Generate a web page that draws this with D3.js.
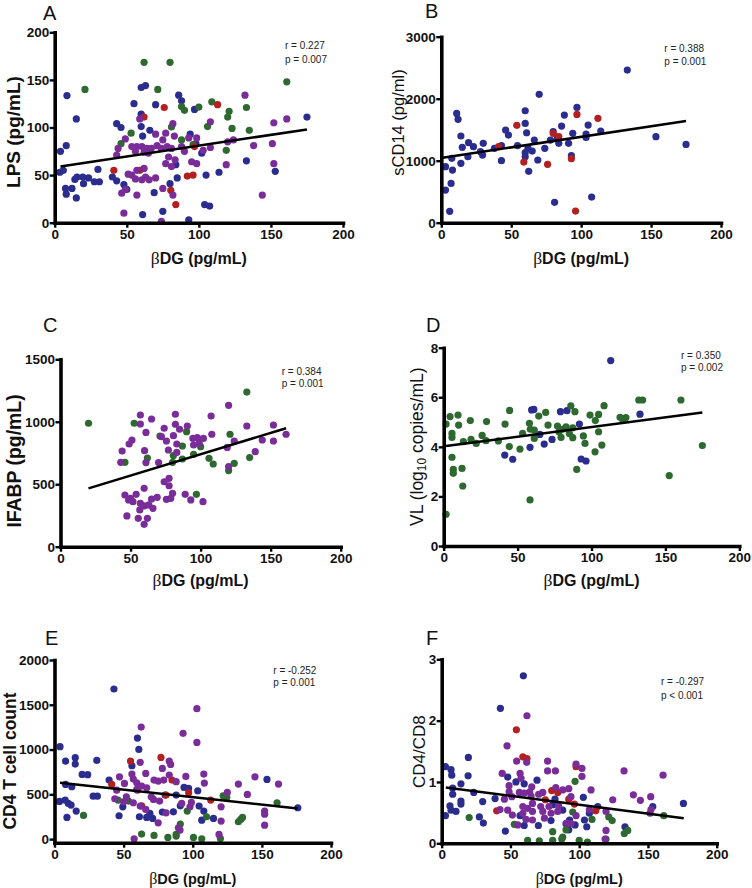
<!DOCTYPE html>
<html><head><meta charset="utf-8">
<script src="https://cdn.jsdelivr.net/npm/d3@7"></script>
<style>body{margin:0;background:#fff;} svg{display:block;font-family:"Liberation Sans",Arial,sans-serif;}</style>
</head><body><svg id="c" width="752" height="888"></svg>
<script>
const xTicks = [0, 50, 100, 150, 200];

// Panel A: LPS vs βDG
const aGreen = [[62,168.5],[80,168.5],[21,140],[71.5,140],[161,148],[88,122],[100,121.5],[109,127],[90,118],[121,117],[133,121],[120,111],[106,101],[81,100.5],[123,99],[135,97],[53,94],[88,87],[46,83],[96,82],[119,76]];
const aRed = [[76,121],[113,124],[62,111],[41,55],[59,55],[92,49],[96,50],[97,80],[80.5,34],[84,19]];
const aBlue = [[8.5,133.5],[15,109],[4,75],[8,81],[3.5,53],[6,55],[7.5,36],[8,30],[12,36],[14,45.5],[15,26],[15.5,48],[19.5,48],[20,41],[23.5,47],[27.5,43],[30,56],[31,43],[40,48],[43,44],[48,40],[50,35],[43,104],[46,100],[55,125],[60,142],[63,144],[60,114],[60,101],[66,97],[61,91],[70,124],[86,134],[88,128],[97,119],[94,93],[102,73],[105,50],[114,53],[104,19],[107.5,17.5],[133,65],[153,54],[175,111],[69,31.5],[75,12],[61,8.5],[93,3],[80,41],[85,47],[84,61],[98,83]];
const aPurple = [[132,134],[152,105],[161,109],[108,106],[59,109],[82,104],[77,94],[70,93],[75,87],[83,91],[93,89],[98.5,89],[120,85],[124,87],[138,81],[151,83],[108,79],[103,76],[44,78],[43,71],[49,88],[53.5,80],[57,80],[60.5,80],[64,78],[67,78],[56,75],[62,74],[65,73],[71,81],[74,78],[78,80],[81,78],[88,80],[90,75],[79,69],[83.5,66],[77,62],[81,59],[95,64],[98.5,62],[119,61],[152,62],[51,51],[56,46],[60.5,45],[63,48],[57,55],[62,57],[53.5,50],[65.5,45],[70,47],[49,35],[46.5,31],[57,29],[75,36],[82,29],[48,10],[74,1.5],[144,29]];
const aFit = [[4,59],[175,98]];
const aStats = ["r = 0.227", "p = 0.007"];
const aYTicks = [0, 50, 100, 150, 200];

// Panel B: sCD14 vs βDG
const bBlue = [[133,2462],[70,2070],[11,1763],[12,1667],[60,1806],[97,1860],[88,1736],[60,1602],[105,1575],[86,1559],[46,1495],[48,1414],[61,1451],[94,1441],[114,1478],[103.5,1430],[103.5,1376],[80,1468],[83,1360],[84,1280],[78,1333],[66.5,1333],[74,1199],[91,1280],[62,1199],[65,1156],[60,1129],[60,1064],[69,1011],[62.5,828],[93,1081],[14,1398],[15,1215],[14,957],[19.5,1290],[19,1064],[23,1226],[28,1145],[30,1280],[29.5,1091],[38,1199],[43,1242],[43,1000],[54.5,1242],[7.5,1038],[8,849],[7,634],[3,903],[3,527],[6,183],[81,328],[107.5,414],[153.5,1387],[175,1263]];
const bRed = [[54,1570],[97,1747],[112,1683],[80,1441],[84,1387],[41,1226],[59,978],[76,941],[93,1032],[96,188]];
const bFit = [[1,1048],[175,1640]];
const bStats = ["r = 0.388", "p = 0.001"];
const bYTicks = [0, 1000, 2000, 3000];

// Panel C: IFABP vs βDG
const cGreen = [[20,988],[52.6,988],[133,1238],[90,921],[71,886],[87,806],[100,801],[121,900],[62,710],[46,675],[80.6,729],[87,702],[95,739],[106,707],[109,662],[135,713],[124,667],[120,609],[80,675],[97,419]];
const cPurple = [[57,1054],[65,1022],[82,1060],[57,982],[74,948],[82,980],[90.5,966],[107.5,1046],[120,1132],[133,966],[152,974],[161,900],[108,900],[61,915],[51,854],[49,822],[44,766],[43,675],[60,769],[61,673],[70,673],[72,881],[75.6,846],[77,774],[80.6,889],[83,822],[85,940],[83,755],[94.5,867],[97.6,873],[102,867],[95,814],[99,827],[119,795],[124,846],[139,761],[144,854],[152,846],[120,641],[77.5,547],[74,520],[77.5,488],[80,427],[75.6,379],[78.7,387],[46,414],[50,387],[54,419],[48.6,374],[51.7,360],[59.7,467],[65,382],[69,395],[57,347],[59.7,326],[63,334],[66,307],[56.6,294],[47.4,246],[55.5,227],[62,227],[59.7,179],[89,419],[93,374],[101.7,360]];
const cFit = [[20,467],[161,948]];
const cStats = ["r = 0.384", "p = 0.001"];
const cYTicks = [0, 500, 1000, 1500];

// Panel D: VL vs βDG
const dGreen = [[1.6,4.92],[4.3,5.22],[9.7,5.28],[10.1,4.88],[5.6,4.54],[5.6,4.38],[5.6,3.58],[6.5,3.09],[6.5,2.93],[12.4,3.13],[12.9,2.42],[1.6,1.28],[13.3,4.21],[18,5.06],[18.5,4.3],[22,4.14],[26,4.46],[28.6,4.25],[29,5.02],[37,4.24],[41.5,4.92],[44.6,5.47],[44.4,4.01],[51.6,3.91],[53.4,4.54],[58,4.95],[58.6,4.71],[61.3,4.68],[61.3,4.34],[64.3,5.24],[69,5.39],[70.6,4.88],[58.4,1.86],[77,4.84],[79.4,4.38],[80.5,4.71],[82.8,4.81],[86,5.65],[88.8,5.42],[87.3,4.77],[85,4.54],[87.3,4.37],[94.5,4.44],[95.6,4.14],[90,3.09],[99,5.28],[102.4,3.8],[102.6,5.06],[104.8,4.61],[104.8,5.31],[107,4.07],[108.5,5.66],[119.3,5.19],[121,5.11],[123.3,5.18],[132,5.89],[134.6,5.89],[160.5,5.89],[175,4.05],[152.6,2.84],[78,4.61]];
const dBlue = [[113,7.48],[59.5,5.49],[61,5.51],[79,5.42],[83.4,5.46],[91.8,4.92],[65,4.5],[68,4.11],[73.3,4.3],[58.4,3.98],[41.3,3.67],[46.7,3.5],[93,3.51],[96.3,3.43],[132.8,5.32]];
const dFit = [[1.6,4.03],[175,5.39]];
const dStats = ["r = 0.350", "p = 0.002"];
const dYTicks = [0, 2, 4, 6, 8];

// Panel E: CD4 T cell count vs βDG
const eBlue = [[43,1676],[4,1032],[8,871],[15,909],[15,838],[30.6,879],[20,722],[24,719],[8,611],[12.5,585],[60,1128],[61,1002],[56,819],[39.5,659],[28,480],[31,480],[3.6,421],[7.7,436],[10,398],[12,380],[15.7,313],[9,242],[46.7,261],[49.4,361],[61.4,250],[66.7,242],[69,287],[71,231],[78,302],[86,305],[88,492],[80,492],[91,372],[93.7,577],[97,566],[103.6,540],[104.6,369],[108,313],[106.5,212],[115,231],[153.7,667],[176,350]];
const ePurple = [[103,1456],[62.7,1251],[93,1181],[103,1080],[62,857],[83,871],[84,834],[47,696],[50.6,622],[56,726],[57,670],[66,734],[59.5,629],[59.5,555],[63,592],[66.7,573],[72,659],[75,648],[79,659],[78,789],[83,715],[88,641],[95,700],[108,726],[108.4,626],[133,615],[145,696],[162,615],[125,521],[139.5,499],[120.5,361],[120.5,201],[119,52],[152,313],[152,279],[152,156],[45,547],[43.6,451],[50,417],[52,473],[57,406],[62,369],[66,331],[70,473],[71.6,443],[76,425],[75,182],[80.7,294],[89.6,127],[90.8,101],[92,398],[99,410],[98,361],[57.6,4]];
const eRed = [[77,912],[55,871],[41.4,611],[60,547],[63,372],[80.7,492],[85,659],[97,518],[113,436]];
const eGreen = [[21,264],[53.5,425],[46,436],[63,56],[72,41],[82,19],[88,52],[88,34],[91,168],[96,313],[100.5,19],[106.5,4],[110,250],[120,7],[122,484],[124.6,465],[133,194],[134.7,220],[136,242],[161,406]];
const eFit = [[4,629],[176,343]];
const eStats = ["r = -0.252", "p = 0.001"];
const eYTicks = [0, 500, 1000, 1500, 2000];

// Panel F: CD4/CD8 vs βDG
const fBlue = [[59.4,2.73],[42.7,2.2],[2.7,1.25],[6.8,1.2],[7.3,1.11],[19.4,1.4],[19.2,1.1],[14,0.97],[8,0.9],[8,0.8],[23.3,0.83],[2.7,0.45],[6,0.61],[6.8,0.54],[10.4,0.52],[14,0.64],[14,0.69],[29.8,0.68],[30.3,0.33],[27.4,0.43],[38.8,0.73],[46.3,0.2],[48,1.08],[54,1.0],[60,0.97],[60,0.29],[57,0.45],[69.3,1.03],[70.3,0.29],[79.5,0.37],[80.7,0.63],[82.4,0.72],[88,0.54],[90.4,0.32],[93,0.38],[92.4,0.22],[97,0.3],[103,0.75],[103.8,0.38],[105.5,0.27],[107.4,0.49],[113.5,0.6],[133.3,0.27],[153.5,0.6],[175.8,0.65]];
const fPurple = [[62,2.08],[47.5,1.59],[54.5,1.34],[61.8,1.32],[77,1.34],[82.7,1.18],[77,1.18],[97.7,1.29],[102,1.22],[102,1.09],[132.6,1.18],[161,1.11],[44,1.14],[57,1.14],[57.7,1.06],[65.5,0.92],[49,0.94],[49,0.84],[51,0.76],[45.6,0.72],[56.5,0.83],[60,0.82],[64,0.84],[65,0.77],[70.5,0.8],[73.5,0.83],[83,0.91],[88,0.87],[92.4,0.89],[94,0.76],[108.6,0.87],[124.4,0.71],[139.4,0.79],[144.5,0.7],[152,0.76],[151.5,0.49],[152.2,0.55],[42.4,0.55],[48,0.54],[51.4,0.46],[59,0.6],[59,0.49],[62.5,0.57],[66,0.65],[66,0.52],[72,0.6],[73.5,0.52],[78,0.6],[79.5,0.49],[84.4,0.52],[85,0.61],[74.7,0.41],[61.3,0.39],[66,0.38],[55.3,0.3],[91,0.33],[94,0.32],[97.7,0.45],[107.4,0.55],[119.5,0.52],[119.5,0.21],[118.8,0.07]];
const fRed = [[54.3,1.85],[59,1.41],[62,1.38],[97.7,1.25],[80,0.86],[84.4,0.83],[40,0.53],[75.4,0.71],[92.4,0.72],[96.5,0.64],[112,0.53]];
const fGreen = [[20,0.42],[52.8,0.31],[97,1.01],[95.3,0.51],[62.5,0.05],[71,0.04],[80.7,0.05],[87.3,0.07],[88,0.1],[80.7,0.19],[90.4,0.22],[100,0.05],[106,0.02],[109.3,0.39],[121.5,0.43],[124,0.37],[119.5,0.07],[132.8,0.16],[135.3,0.21],[161.5,0.45]];
const fFit = [[3,0.91],[176,0.41]];
const fStats = ["r = -0.297", "p < 0.001"];
const fYTicks = [0, 1, 2, 3];

const colors = {blue: "#2b2d8e", purple: "#7a2c98", green: "#2e6930", red: "#b41f1f"};
const drawOrder = ["blue", "green", "red", "purple"];

// layout (positions only)
const panels = [
  {letter:"A", lx:43, ly:19.5, groups:{blue:aBlue, green:aGreen, red:aRed, purple:aPurple}, fit:aFit, stats:aStats, yTicks:aYTicks, yDomain:[0,200],
   x0:54.7, x1:343, yb:222.7, yt:32.3, sx:285, sy:48.5, sdy:14.3,
   ylab:[{t:"LPS (pg/mL)"}], ylx:20.3, yly:132, ylSize:19, ylWeight:"bold", xly:263.5, xlSize:16},
  {letter:"B", lx:425, ly:18.3, groups:{blue:bBlue, red:bRed}, fit:bFit, stats:bStats, yTicks:bYTicks, yDomain:[0,3000],
   x0:441.3, x1:721, yb:222.7, yt:36.7, sx:664.3, sy:51.8, sdy:13.4,
   ylab:[{t:"sCD14 (pg/ml)"}], ylx:403.5, yly:122.5, ylSize:16.5, ylWeight:"normal", xly:263.5, xlSize:16},
  {letter:"C", lx:43, ly:332, groups:{green:cGreen, purple:cPurple}, fit:cFit, stats:cStats, yTicks:cYTicks, yDomain:[0,1500],
   x0:60.5, x1:340.7, yb:546.7, yt:359.3, sx:281.7, sy:375.2, sdy:11.7,
   ylab:[{t:"IFABP (pg/mL)"}], ylx:20.6, yly:461, ylSize:19.4, ylWeight:"bold", xly:586, xlSize:16},
  {letter:"D", lx:426, ly:332, groups:{green:dGreen, blue:dBlue}, fit:dFit, stats:dStats, yTicks:dYTicks, yDomain:[0,8],
   x0:443.7, x1:739.3, yb:546, yt:347.7, sx:681, sy:358.5, sdy:12.7,
   ylab:[{t:"VL (log"},{t:"10", sub:true},{t:" copies/mL)"}], ylx:422.5, yly:446.7, ylSize:17.5, ylWeight:"normal", xly:586, xlSize:16},
  {letter:"E", lx:45, ly:645, groups:{blue:eBlue, green:eGreen, red:eRed, purple:ePurple}, fit:eFit, stats:eStats, yTicks:eYTicks, yDomain:[-40,2000],
   x0:54.5, x1:331, yb:842.7, yt:660, sx:273.3, sy:673.5, sdy:12.7,
   ylab:[{t:"CD4 T cell count"}], ylx:16, yly:761, ylSize:17.5, ylWeight:"bold", xly:884, xlSize:14.5},
  {letter:"F", lx:426, ly:645, groups:{blue:fBlue, green:fGreen, red:fRed, purple:fPurple}, fit:fFit, stats:fStats, yTicks:fYTicks, yDomain:[0,3],
   x0:441.7, x1:716.7, yb:843.3, yt:659.3, sx:661, sy:685, sdy:14,
   ylab:[{t:"CD4/CD8"}], ylx:425, yly:751.7, ylSize:17, ylWeight:"normal", xly:884, xlSize:14.5}
];

const svg = d3.select("#c");
const plain = d => String(d);

panels.forEach(p => {
  const g = svg.append("g");
  const x = d3.scaleLinear().domain([0, 200]).range([p.x0, p.x1]);
  const y = d3.scaleLinear().domain(p.yDomain).range([p.yb, p.yt]);

  // points
  drawOrder.forEach(k => {
    const arr = p.groups[k];
    if (!arr) return;
    g.append("g").selectAll("circle").data(arr).enter().append("circle")
      .attr("cx", d => x(d[0])).attr("cy", d => y(d[1]))
      .attr("r", 3.6).attr("fill", colors[k]);
  });

  // regression line
  g.append("line")
    .attr("x1", x(p.fit[0][0])).attr("y1", y(p.fit[0][1]))
    .attr("x2", x(p.fit[1][0])).attr("y2", y(p.fit[1][1]))
    .attr("stroke", "#000").attr("stroke-width", 2.5);

  // axes
  const xa = g.append("g").attr("transform", `translate(0,${p.yb})`)
    .call(d3.axisBottom(x).tickValues(xTicks).tickFormat(plain).tickSize(5).tickSizeOuter(0).tickPadding(1.6));
  const ya = g.append("g").attr("transform", `translate(${p.x0},0)`)
    .call(d3.axisLeft(y).tickValues(p.yTicks).tickFormat(plain).tickSize(5).tickSizeOuter(0).tickPadding(0.5));
  [xa, ya].forEach(a => {
    a.attr("font-family", '"Liberation Sans", Arial, sans-serif').attr("font-size", 13.5);
    a.select(".domain").attr("stroke", "#000").attr("stroke-width", 3.6).attr("stroke-linecap", "square");
    a.selectAll(".tick line").attr("stroke", "#000").attr("stroke-width", 2.4);
    a.selectAll(".tick text").attr("fill", "#111").style("font-weight", "bold").style("font-size", "13.5px");
  });

  // panel letter
  g.append("text").attr("x", p.lx).attr("y", p.ly).attr("font-size", 20).attr("fill", "#111").text(p.letter);

  // stats
  p.stats.forEach((s, i) => {
    g.append("text").attr("x", p.sx).attr("y", p.sy + i * p.sdy).attr("font-size", 10).attr("fill", "#222").text(s);
  });

  // y label
  const yl = g.append("text").attr("transform", `translate(${p.ylx},${p.yly}) rotate(-90)`)
    .attr("text-anchor", "middle").attr("font-size", p.ylSize).attr("font-weight", p.ylWeight).attr("fill", "#111");
  p.ylab.forEach((part, i) => {
    const ts = yl.append("tspan").text(part.t);
    if (part.sub) ts.attr("font-size", p.ylSize * 0.68).attr("dy", "0.3em");
    else if (i > 0) ts.attr("dy", "-0.2em");
  });

  // x label
  const xl = g.append("text").attr("x", (p.x0 + p.x1) / 2).attr("y", p.xly)
    .attr("text-anchor", "middle").attr("font-size", p.xlSize).attr("font-weight", "bold").attr("fill", "#111");
  xl.append("tspan").attr("font-family", '"Liberation Serif", serif').attr("font-weight", "normal").attr("font-size", p.xlSize * 1.1).text("β");
  xl.append("tspan").text("DG (pg/mL)");
});
</script>
</body></html>
